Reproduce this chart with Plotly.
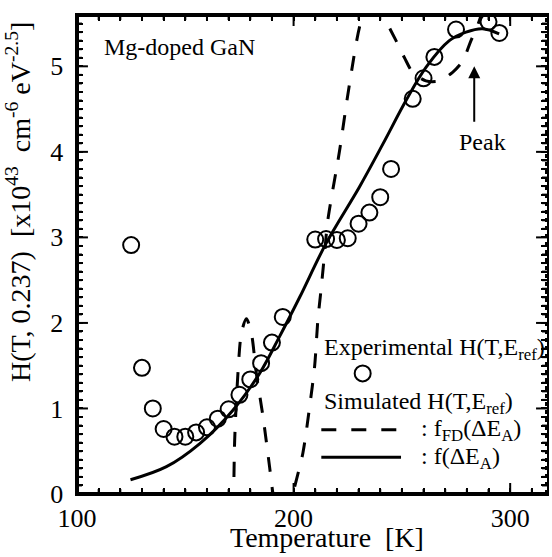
import plotly.graph_objects as go

# Experimental H(T, E_ref) data (circles)
exp_T = [125, 130, 135, 140, 145, 150, 155, 160, 165, 170, 175, 180, 185, 190, 195,
         210, 215, 220, 225, 230, 235, 240, 245, 255, 260, 265, 275, 290, 295]
exp_H = [2.91, 1.475, 1.00, 0.76, 0.67, 0.67, 0.72, 0.78, 0.88, 0.99, 1.16, 1.34, 1.53, 1.77, 2.07,
         2.975, 2.98, 2.97, 2.99, 3.16, 3.29, 3.47, 3.80, 4.62, 4.86, 5.11, 5.43, 5.52, 5.39]

# Simulated with f(dE_A) (solid)
sol_T = [124.7, 141.3, 156.7, 172.0, 184.3, 193.5, 202.8, 215.0, 230.4, 241.2, 251.9, 261.2, 271.9, 279.6, 287.2, 294.9]
sol_H = [0.167, 0.32, 0.59, 0.98, 1.41, 1.84, 2.30, 2.93, 3.59, 4.09, 4.60, 4.99, 5.30, 5.40, 5.44, 5.38]

# Simulated with f_FD(dE_A) (dashed)
fd_T = [171.5, 172.3, 172.8, 174.3, 175.9, 178.2, 180.5, 182.8, 185.9, 188.9, 190.5, 195.0, 199.7,
        204.3, 207.4, 209.7, 211.2, 212.8, 214.3, 215.8, 221.2, 225.8, 231.2, 237.0, 242.7, 247.3,
        251.2, 255.0, 261.1, 267.3, 273.4, 278.0, 281.9, 285.7, 290.0]
fd_H = [-0.5, 0.0, 0.63, 1.41, 1.88, 2.05, 1.88, 1.41, 0.90, 0.32, 0.0, -0.6, 0.0,
        0.48, 1.02, 1.49, 2.03, 2.42, 2.81, 3.20, 4.01, 4.79, 5.53, 5.85, 5.53, 5.30,
        5.10, 4.93, 4.83, 4.83, 4.93, 5.06, 5.30, 5.53, 5.9]

# in-plot legend key positions (data units)
key_circle_T, key_circle_H = [231.9], [1.41]
key_dash_T, key_dash_H = [212.8, 252.0], [0.75, 0.75]
key_solid_T, key_solid_H = [212.8, 249.6], [0.43, 0.43]

# axis ticks
x_major = [100, 200, 300]
x_major_labels = ["100", "200", "300"]
y_major = [0, 1, 2, 3, 4, 5]
y_major_labels = ["0", "1", "2", "3", "4", "5"]
X_RANGE = [100, 317]
Y_RANGE = [0, 5.6]

x_minor = [100 + 10 * i for i in range(22)]
x_minor_text = [x_major_labels[x_major.index(v)] if v in x_major else "" for v in x_minor]
y_minor = [round(0.1 * i, 1) for i in range(57)]
y_minor_text = [y_major_labels[y_major.index(v)] + "\u00a0" if v in y_major else "" for v in y_minor]

W, H = 552, 557
ML, MR, MT, MB = 77, 3, 15, 63
FONT = "Liberation Serif"

# frame tick marks, built from the tick arrays (inside ticks on all four sides)
px_x = (W - ML - MR) / (X_RANGE[1] - X_RANGE[0])
px_y = (H - MT - MB) / (Y_RANGE[1] - Y_RANGE[0])
tick_x, tick_y = [], []
for v in x_minor:
    d = (11 if v in x_major else 5) / px_y
    tick_x += [v, v, None, v, v, None]
    tick_y += [Y_RANGE[0], Y_RANGE[0] + d, None, Y_RANGE[1], Y_RANGE[1] - d, None]
for v in y_minor:
    d = (11 if v in y_major else 5) / px_x
    tick_x += [X_RANGE[0], X_RANGE[0] + d, None, X_RANGE[1], X_RANGE[1] - d, None]
    tick_y += [v, v, None, v, v, None]

fig = go.Figure()
fig.add_trace(go.Scatter(x=fd_T, y=fd_H, mode="lines",
                         line=dict(color="black", width=3, dash="longdash", shape="spline", smoothing=0.8),
                         showlegend=False, hoverinfo="skip"))
fig.add_trace(go.Scatter(x=sol_T, y=sol_H, mode="lines",
                         line=dict(color="black", width=3, shape="spline", smoothing=1.0),
                         showlegend=False, hoverinfo="skip"))
fig.add_trace(go.Scatter(x=exp_T, y=exp_H, mode="markers",
                         marker=dict(symbol="circle-open", size=16, color="black", line=dict(width=2)),
                         showlegend=False, hoverinfo="skip"))
# legend keys
fig.add_trace(go.Scatter(x=key_circle_T, y=key_circle_H, mode="markers",
                         marker=dict(symbol="circle-open", size=16, color="black", line=dict(width=2)),
                         showlegend=False, hoverinfo="skip"))
fig.add_trace(go.Scatter(x=key_dash_T, y=key_dash_H, mode="lines",
                         line=dict(color="black", width=3, dash="longdash"),
                         showlegend=False, hoverinfo="skip"))
fig.add_trace(go.Scatter(x=key_solid_T, y=key_solid_H, mode="lines",
                         line=dict(color="black", width=3),
                         showlegend=False, hoverinfo="skip"))
# frame: solid left/bottom/top, dotted right
fig.add_trace(go.Scatter(x=[X_RANGE[1], X_RANGE[0], X_RANGE[0], X_RANGE[1]],
                         y=[Y_RANGE[1], Y_RANGE[1], Y_RANGE[0], Y_RANGE[0]], mode="lines",
                         line=dict(color="black", width=4), showlegend=False, hoverinfo="skip"))
fig.add_trace(go.Scatter(x=[X_RANGE[1], X_RANGE[1]], y=Y_RANGE, mode="lines",
                         line=dict(color="black", width=4, dash="dot"), showlegend=False, hoverinfo="skip"))
fig.add_trace(go.Scatter(x=tick_x, y=tick_y, mode="lines", connectgaps=False,
                         line=dict(color="black", width=2), showlegend=False, hoverinfo="skip"))

base = dict(showgrid=False, zeroline=False, ticks="inside", tickcolor="black", tickwidth=2,
            ticklen=6, linecolor="black", linewidth=2, showline=True, mirror="ticks",
            tickfont=dict(family=FONT, size=26, color="black"))

fig.update_layout(
    width=W, height=H,
    margin=dict(l=ML, r=MR, t=MT, b=MB),
    paper_bgcolor="white", plot_bgcolor="white",
    xaxis=dict(range=X_RANGE, tickmode="array", tickvals=x_minor, ticktext=x_minor_text, **base),
    yaxis=dict(range=Y_RANGE, tickmode="array", tickvals=y_minor, ticktext=y_minor_text, **base),
)

tf = dict(family=FONT, size=24, color="black")
ann = [
    dict(x=111.5, y=5.23, text="Mg-doped GaN", xanchor="left", yanchor="middle"),
    dict(x=212.9, y=1.70, text="Experimental H(T,E<sub>ref</sub>)", xanchor="left", yanchor="middle"),
    dict(x=212.9, y=1.06, text="Simulated H(T,E<sub>ref</sub>)", xanchor="left", yanchor="middle"),
    dict(x=258.1, y=0.75, text=": f<sub>FD</sub>(ΔE<sub>A</sub>)", xanchor="left", yanchor="middle"),
    dict(x=258.1, y=0.42, text=": f(ΔE<sub>A</sub>)", xanchor="left", yanchor="middle"),
    dict(x=287, y=4.12, text="Peak", xanchor="center", yanchor="middle"),
]
for a in ann:
    fig.add_annotation(xref="x", yref="y", showarrow=False, font=tf, **a)

fig.add_annotation(xref="x", yref="y", x=283.4, y=5.0, ax=0, ay=57,
                   text="", showarrow=True, arrowhead=2, arrowsize=1.2, arrowwidth=2, arrowcolor="black")

fig.add_annotation(xref="paper", yref="paper", x=0.532, y=-0.09, showarrow=False,
                   text="Temperature  [K]", font=dict(family=FONT, size=28, color="black"),
                   xanchor="center", yanchor="middle")

fig.add_annotation(xref="paper", yref="paper", x=-0.123, y=0.61, textangle=-90, showarrow=False,
                   text="H(T, 0.237)  [x10<sup>43</sup>  cm<sup>-6</sup> eV<sup>-2.5</sup>]",
                   font=dict(family=FONT, size=28, color="black"), xanchor="center", yanchor="middle")

fig.write_html("out.html", config={"displayModeBar": False},
               post_script="document.body.style.margin='0px';")
